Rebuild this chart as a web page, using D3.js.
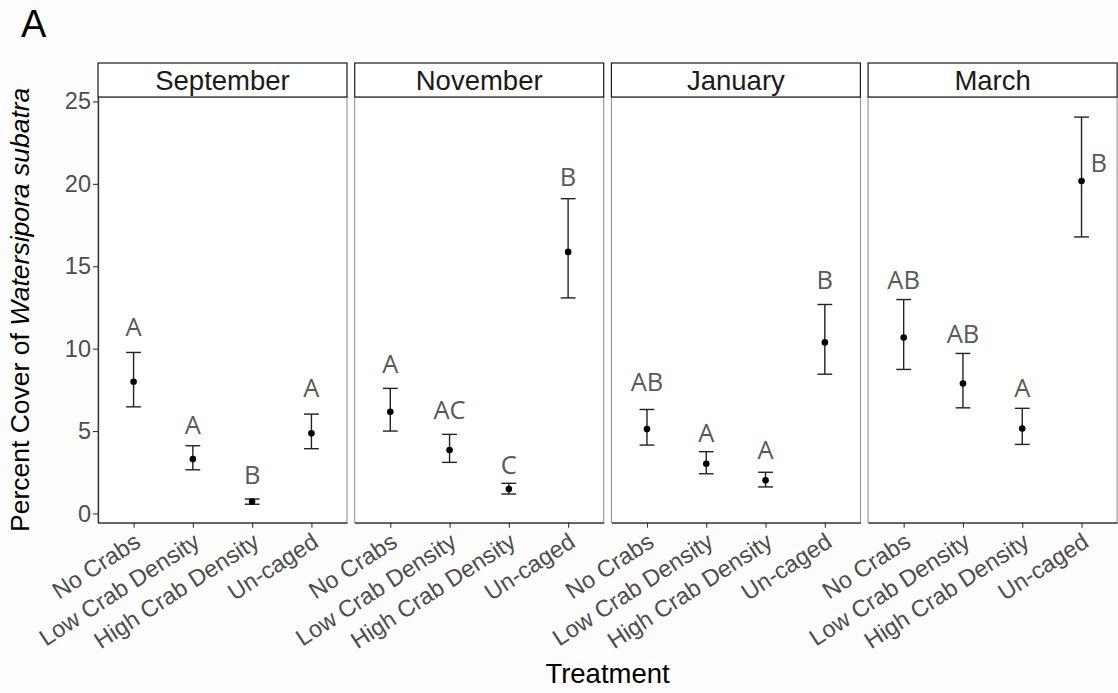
<!DOCTYPE html>
<html>
<head>
<meta charset="utf-8">
<script src="https://cdn.jsdelivr.net/npm/d3@7"></script>
<style>
  body { margin: 0; background: #fdfdfd; }
  svg { display: block; font-family: "Liberation Sans", Arial, sans-serif; }
  .tick line { stroke: #333; stroke-width: 1.1; }
  .tick text { fill: #4d4d4d; font-size: 23.5px; }
  .letter { font-family: "Open Sans", sans-serif; font-size: 25.5px; fill: #595959; }
</style>
</head>
<body>
<svg id="chart" width="1118" height="693"></svg>
<script>
// Data, one row per month, columns in treatment order
const months = ["September", "November", "January", "March"];
const treatments = ["No Crabs", "Low Crab Density", "High Crab Density", "Un-caged"];
const meanCover = [
  [7.99, 3.30, 0.72, 4.86],
  [6.17, 3.85, 1.48, 15.87],
  [5.12, 3.02, 2.01, 10.38],
  [10.68, 7.89, 5.16, 20.17]
];
const lowerCover = [
  [6.47, 2.65, 0.56, 3.93],
  [5.00, 3.10, 1.18, 13.08],
  [4.15, 2.41, 1.61, 8.45],
  [8.74, 6.41, 4.19, 16.78]
];
const upperCover = [
  [9.77, 4.11, 0.88, 6.03],
  [7.59, 4.80, 1.83, 19.10],
  [6.31, 3.75, 2.50, 12.68],
  [12.98, 9.71, 6.38, 24.05]
];
const groupLetters = [
  ["A", "A", "B", "A"],
  ["A", "AC", "C", "B"],
  ["AB", "A", "A", "B"],
  ["AB", "AB", "A", "B"]
];
// letter heights in % cover, and sideways shift in category units
const letterHeight = [
  [11.32, 5.36, 2.33, 7.65],
  [9.10, 6.27, 2.94, 20.40],
  [7.99, 4.90, 3.85, 14.15],
  [14.15, 10.92, 7.65, 21.30]
];
const letterShift = [
  [0, 0, 0, 0],
  [0, 0, 0, 0],
  [0, 0, 0, 0],
  [0, 0, 0, 0.29]
];
const yTicks = [0, 5, 10, 15, 20, 25];

const svg = d3.select("#chart");

// layout
const panelLeft = 98;
const panelW = 249;
const panelGap = 7.7;
const panelTop = 97;
const panelBottom = 522.7;
const stripTop = 63;

const y = d3.scaleLinear().domain([-0.56, 25.27]).range([panelBottom, panelTop]);
const x = d3.scalePoint().domain(treatments).range([0, panelW]).padding(0.6);

// panel tag
svg.append("text")
  .attr("x", 21).attr("y", 37)
  .attr("font-size", 38)
  .attr("fill", "#000")
  .text("A");

months.forEach((month, m) => {
  const px = panelLeft + m * (panelW + panelGap);
  const g = svg.append("g").attr("transform", `translate(${px},0)`);

  // panel background and border
  g.append("rect")
    .attr("x", 0).attr("y", panelTop)
    .attr("width", panelW).attr("height", panelBottom - panelTop)
    .attr("fill", "#fff")
    .attr("stroke", "#8a8a8a").attr("stroke-width", 1);

  // strip
  g.append("rect")
    .attr("x", 0).attr("y", stripTop)
    .attr("width", panelW).attr("height", panelTop - stripTop)
    .attr("fill", "#fff")
    .attr("stroke", "#1a1a1a").attr("stroke-width", 1.2);
  g.append("text")
    .attr("x", panelW / 2).attr("y", (stripTop + panelTop) / 2)
    .attr("dy", "0.36em")
    .attr("text-anchor", "middle")
    .attr("font-size", 27.5)
    .attr("fill", "#1a1a1a")
    .text(month);

  // x axis
  const xAxis = g.append("g")
    .attr("transform", `translate(0,${panelBottom})`)
    .call(d3.axisBottom(x).tickSize(5).tickSizeOuter(0));
  xAxis.select(".domain").attr("stroke", "#333").attr("stroke-width", 1.3);
  xAxis.selectAll(".tick text")
    .attr("text-anchor", "end")
    .attr("transform", "translate(-1,9) rotate(-33)")
    .attr("x", 0).attr("y", 0)
    .attr("dy", "0.71em");

  // y axis on first panel only
  if (m === 0) {
    const yAxis = g.append("g")
      .call(d3.axisLeft(y).tickValues(yTicks).tickSize(5).tickPadding(2).tickSizeOuter(0));
    yAxis.select(".domain").attr("stroke", "#333").attr("stroke-width", 1.3);
  }

  const rows = treatments.map((t, i) => ({
    t,
    mean: meanCover[m][i],
    lo: lowerCover[m][i],
    hi: upperCover[m][i],
    letter: groupLetters[m][i],
    ly: letterHeight[m][i],
    shift: letterShift[m][i]
  }));
  const step = x.step();
  const capHalf = step * 0.125;

  const bars = g.append("g").selectAll("g").data(rows).join("g")
    .attr("stroke", "#222").attr("stroke-width", 1.4);
  bars.append("line")
    .attr("x1", d => x(d.t)).attr("x2", d => x(d.t))
    .attr("y1", d => y(d.lo)).attr("y2", d => y(d.hi));
  bars.append("line")
    .attr("x1", d => x(d.t) - capHalf).attr("x2", d => x(d.t) + capHalf)
    .attr("y1", d => y(d.hi)).attr("y2", d => y(d.hi));
  bars.append("line")
    .attr("x1", d => x(d.t) - capHalf).attr("x2", d => x(d.t) + capHalf)
    .attr("y1", d => y(d.lo)).attr("y2", d => y(d.lo));

  g.append("g").selectAll("circle").data(rows).join("circle")
    .attr("cx", d => x(d.t)).attr("cy", d => y(d.mean))
    .attr("r", 3.3).attr("fill", "#000");

  g.append("g").selectAll("text").data(rows).join("text")
    .attr("class", "letter")
    .attr("x", d => x(d.t) + d.shift * step)
    .attr("y", d => y(d.ly))
    .attr("dy", "0.36em")
    .attr("text-anchor", "middle")
    .text(d => d.letter);
});

// axis titles
const plotRight = panelLeft + 4 * panelW + 3 * panelGap;
svg.append("text")
  .attr("x", (panelLeft + plotRight) / 2).attr("y", 683)
  .attr("text-anchor", "middle")
  .attr("font-size", 27.5)
  .attr("fill", "#000")
  .text("Treatment");

const yTitle = svg.append("text")
  .attr("transform", `translate(29,${(panelTop + panelBottom) / 2}) rotate(-90)`)
  .attr("text-anchor", "middle")
  .attr("font-size", 26.5)
  .attr("fill", "#000");
yTitle.append("tspan").text("Percent Cover of ");
yTitle.append("tspan").attr("font-style", "italic").text("Watersipora subatra");
</script>
</body>
</html>
